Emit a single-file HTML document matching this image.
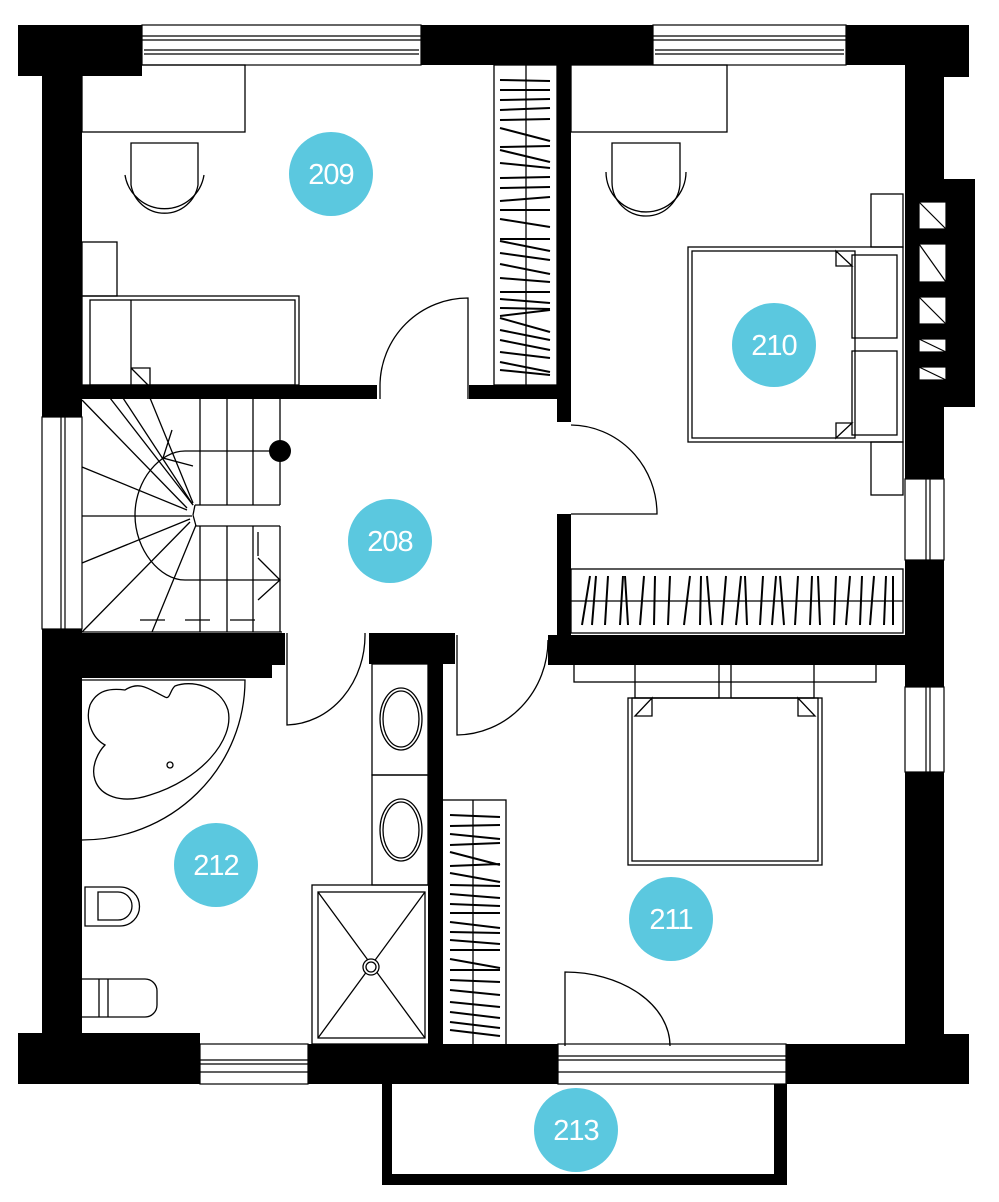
<!DOCTYPE html>
<html><head><meta charset="utf-8"><style>
html,body{margin:0;padding:0;background:#fff;}
svg{display:block}
text{font-family:"Liberation Sans",sans-serif;font-size:29px;fill:#fff;text-anchor:middle;dominant-baseline:central;letter-spacing:-1px}
</style></head><body>
<svg width="999" height="1202" viewBox="0 0 999 1202" xmlns="http://www.w3.org/2000/svg">
<g fill="#000">
<!-- top wall -->
<rect x="18" y="25" width="124" height="51"/>
<rect x="18" y="25" width="950" height="40"/>
<rect x="940" y="25" width="29" height="52"/>
<!-- left wall -->
<rect x="42" y="25" width="40" height="392"/>
<rect x="42" y="629" width="40" height="420"/>
<!-- right wall -->
<rect x="905" y="25" width="39" height="454"/>
<rect x="905" y="560" width="39" height="127"/>
<rect x="905" y="772" width="39" height="280"/>
<rect x="944" y="179" width="31" height="228"/>
<!-- bottom wall -->
<rect x="18" y="1033" width="182" height="51"/>
<rect x="18" y="1044" width="950" height="40"/>
<rect x="940" y="1034" width="29" height="50"/>
<!-- interior walls -->
<rect x="82" y="385" width="295" height="14"/>
<rect x="469" y="385" width="102" height="14"/>
<rect x="557" y="65" width="14" height="357"/>
<rect x="557" y="514" width="14" height="151"/>
<rect x="548" y="635" width="396" height="30"/>
<rect x="42" y="633" width="243" height="32"/>
<rect x="42" y="633" width="230" height="45"/>
<rect x="369" y="633" width="86" height="31"/>
<rect x="428" y="633" width="15" height="414"/>
</g>
<!-- window openings (white over walls) -->
<g fill="#fff" stroke="#000" stroke-width="1.2">
<rect x="142" y="25" width="279" height="40"/>
<line x1="142" y1="36" x2="421" y2="36"/><line x1="142" y1="40" x2="421" y2="40"/>
<line x1="144" y1="50" x2="419" y2="50"/><line x1="144" y1="54" x2="419" y2="54"/>
<rect x="653" y="25" width="193" height="40"/>
<line x1="653" y1="36" x2="846" y2="36"/><line x1="653" y1="40" x2="846" y2="40"/>
<line x1="655" y1="50" x2="844" y2="50"/><line x1="655" y1="54" x2="844" y2="54"/>
<rect x="42" y="417" width="40" height="212"/>
<line x1="61" y1="417" x2="61" y2="629"/><line x1="65" y1="417" x2="65" y2="629"/>
<rect x="905" y="479" width="39" height="81"/>
<line x1="926" y1="479" x2="926" y2="560"/><line x1="930" y1="479" x2="930" y2="560"/>
<rect x="905" y="687" width="39" height="85"/>
<line x1="926" y1="687" x2="926" y2="772"/><line x1="930" y1="687" x2="930" y2="772"/>
<rect x="200" y="1044" width="108" height="40"/>
<line x1="200" y1="1060" x2="308" y2="1060"/><line x1="200" y1="1064" x2="308" y2="1064"/><line x1="200" y1="1072" x2="308" y2="1072"/>
<rect x="558" y="1044" width="228" height="40"/>
<line x1="558" y1="1056" x2="786" y2="1056"/><line x1="558" y1="1060" x2="786" y2="1060"/><line x1="558" y1="1072" x2="786" y2="1072"/>
<rect x="919" y="202" width="27" height="27"/><line x1="919" y1="202" x2="946" y2="229"/>
<rect x="919" y="244" width="27" height="38"/><line x1="919" y1="244" x2="946" y2="282"/>
<rect x="919" y="297" width="27" height="27"/><line x1="919" y1="297" x2="946" y2="324"/>
<rect x="919" y="339" width="27" height="13"/><line x1="919" y1="339" x2="946" y2="352"/>
<rect x="919" y="367" width="27" height="13"/><line x1="919" y1="367" x2="946" y2="380"/>
</g>
<!-- balcony -->
<path d="M382 1084 V1185 H787 V1084 H774 V1174 H392 V1084 Z" fill="#000"/>
<g fill="none" stroke="#000" stroke-width="1.3">
<!-- 209 -->
<rect x="82" y="65" width="163" height="67"/>
<path d="M131 143 V185 A34 34 0 0 0 198 185 V143 Z"/>
<path d="M125 175 A40 40 0 0 0 204 175"/>
<rect x="82" y="242" width="35" height="54"/>
<rect x="82" y="296" width="217" height="89"/><rect x="90" y="300" width="205" height="85"/>
<line x1="131" y1="300" x2="131" y2="385"/>
<path d="M131 368 H150 V385 M131 368 L148 385"/>
<rect x="494" y="65" width="63" height="320"/><line x1="526" y1="65" x2="526" y2="385"/>
<path d="M468 399 V298 A88 88 0 0 0 380 385 V399"/>
<!-- 210 -->
<rect x="571" y="65" width="156" height="67"/>
<path d="M612 143 V182 A34 34 0 0 0 680 182 V143 Z"/>
<path d="M606 172 A40 40 0 0 0 686 172"/>
<rect x="688" y="247" width="215" height="195"/><rect x="692" y="251" width="163" height="187"/>
<path d="M836 251 V266 H852 Z M836 438 V423 H852 Z"/>
<rect x="852" y="255" width="45" height="83"/><rect x="852" y="351" width="45" height="84"/>
<rect x="871" y="194" width="32" height="53"/><rect x="871" y="442" width="32" height="53"/>
<path d="M571 425 A87 89 0 0 1 657 514 H571"/>
<rect x="571" y="569" width="332" height="64"/><line x1="571" y1="601" x2="903" y2="601"/>
<!-- 211 -->
<rect x="574" y="664" width="302" height="18"/>
<rect x="635" y="664" width="84" height="34"/><rect x="731" y="664" width="83" height="34"/>
<rect x="628" y="698" width="194" height="167"/><rect x="632" y="698" width="186" height="163"/>
<path d="M652 698 V716 H635 Z M798 698 V716 H815 Z"/>
<rect x="442" y="800" width="64" height="246"/><line x1="473" y1="800" x2="473" y2="1046"/>
<path d="M457 635 V735 A92 95 0 0 0 548 640"/>
<path d="M565 1046 V972 A105 74 0 0 1 670 1046"/>
<!-- 212 -->
<path d="M287 633 V725 A80 90 0 0 0 365 633"/>
<path d="M82 680 H245 A163 160 0 0 1 82 840"/>
<path d="M125 690 C140 680 150 690 165 697 C170 700 170 690 175 686 C190 680 220 685 228 710 C235 740 200 780 150 795 C120 805 100 795 95 780 C90 765 100 750 105 745 C92 738 85 720 90 705 C97 690 110 688 125 690 Z"/>
<circle cx="170" cy="765" r="3"/>
<rect x="372" y="664" width="56" height="111"/><rect x="372" y="775" width="56" height="110"/>
<ellipse cx="401" cy="719" rx="21" ry="31"/><ellipse cx="401" cy="719" rx="18" ry="28"/>
<ellipse cx="401" cy="830" rx="21" ry="31"/><ellipse cx="401" cy="830" rx="18" ry="28"/>
<rect x="312" y="885" width="117" height="159"/><rect x="318" y="892" width="107" height="146"/>
<line x1="318" y1="892" x2="425" y2="1038"/><line x1="425" y1="892" x2="318" y2="1038"/>
<circle cx="371" cy="967" r="8" fill="#fff"/><circle cx="371" cy="967" r="5"/>
<path d="M85 887 H120 A19 19 0 0 1 120 926 H85 Z M98 892 H118 A14 14 0 0 1 118 920 H98 Z"/>
<path d="M82 979 H145 A12 12 0 0 1 157 991 V1005 A12 12 0 0 1 145 1017 H82"/>
<line x1="99" y1="979" x2="99" y2="1017"/><line x1="108" y1="979" x2="108" y2="1017"/>
</g>
<!-- stairs -->
<g fill="none" stroke="#000" stroke-width="1.3">
<line x1="200" y1="398" x2="200" y2="505"/><line x1="227" y1="398" x2="227" y2="505"/><line x1="253" y1="398" x2="253" y2="505"/><line x1="280" y1="398" x2="280" y2="505"/>
<line x1="195" y1="505" x2="280" y2="505"/><line x1="196" y1="526" x2="280" y2="526"/>
<line x1="200" y1="526" x2="200" y2="632"/><line x1="227" y1="526" x2="227" y2="632"/><line x1="253" y1="526" x2="253" y2="632"/><line x1="280" y1="526" x2="280" y2="632"/>
<line x1="82" y1="632" x2="282" y2="632"/>
<path d="M193 515 L195 505 M193 515 L196 526"/>
<line x1="82" y1="400" x2="187" y2="508"/><line x1="110" y1="398" x2="193" y2="505"/><line x1="123" y1="398" x2="193" y2="505"/><line x1="150" y1="398" x2="193" y2="503"/>
<line x1="82" y1="467" x2="187" y2="510"/><line x1="82" y1="516" x2="192" y2="516"/><line x1="82" y1="563" x2="190" y2="519"/><line x1="82" y1="632" x2="190" y2="522"/><line x1="152" y1="632" x2="196" y2="525"/>
<path d="M280 451 H185 C160 451 135 480 135 515 C135 550 160 580 185 580 H280"/>
<path d="M258 558 L280 580 L258 600"/><line x1="258" y1="532" x2="258" y2="556"/>
<path d="M172 430 L163 458 L193 466"/>
<path d="M140 620 H165 M185 620 H210 M230 620 H255" />
</g>
<circle cx="280" cy="451" r="11" fill="#000"/>
<!-- wardrobe hangers -->
<g stroke="#000" stroke-width="2">
<path d="M500 80 L550 81 M500 90 L550 90 M500 100 L550 99 M500 110 L550 108 M500 120 L550 119 M500 128 L550 141 M500 147 L550 146 M500 150 L550 162 M500 163 L550 168 M500 178 L550 177 M500 188 L550 187 M500 201 L550 197 M500 210 L550 210 M500 219 L550 227 M500 239 L550 239 M500 241 L550 251 M500 253 L550 260 M500 264 L550 274 M500 278 L550 282 M500 292 L550 292 M500 299 L550 303 M500 308 L550 309 M500 316 L550 310 M500 318 L550 332 M500 330 L550 340 M500 340 L550 350 M500 352 L550 358 M500 362 L550 372 M500 370 L550 375"/>
<path d="M450 815 L500 817 M450 826 L500 825 M450 834 L500 839 M450 845 L500 843 M450 852 L500 865 M450 866 L500 864 M450 873 L500 882 M450 885 L500 886 M450 894 L500 898 M450 904 L500 906 M450 913 L500 913 M450 922 L500 928 M450 932 L500 933 M450 940 L500 944 M450 950 L500 950 M450 959 L500 968 M450 970 L500 970 M450 980 L500 982 M450 990 L500 995 M450 1002 L500 1007 M450 1012 L500 1018 M450 1022 L500 1028 M450 1030 L500 1036"/>
<path d="M582 625 L590 576 M592 625 L596 576 M605 625 L608 576 M620 625 L623 576 M625 576 L628 625 M640 625 L644 576 M654 625 L655 576 M668 625 L670 576 M684 625 L690 576 M700 625 L701 576 M707 576 L711 625 M722 625 L726 576 M736 625 L741 576 M745 576 L747 625 M760 625 L763 576 M772 625 L776 576 M780 576 L784 625 M795 625 L798 576 M810 625 L812 576 M818 576 L820 625 M834 625 L836 576 M846 625 L850 576 M860 625 L862 576 M870 625 L874 576 M884 625 L886 576 M893 576 L893 625"/>
</g>
<!-- labels -->
<g fill="#5bc8df">
<circle cx="331" cy="174" r="42"/><circle cx="774" cy="345" r="42"/><circle cx="390" cy="541" r="42"/>
<circle cx="216" cy="865" r="42"/><circle cx="671" cy="919" r="42"/><circle cx="576" cy="1130" r="42"/>
</g>
<text x="331" y="175">209</text><text x="774" y="346">210</text><text x="390" y="542">208</text>
<text x="216" y="866">212</text><text x="671" y="920">211</text><text x="576" y="1131">213</text>
</svg>
</body></html>
